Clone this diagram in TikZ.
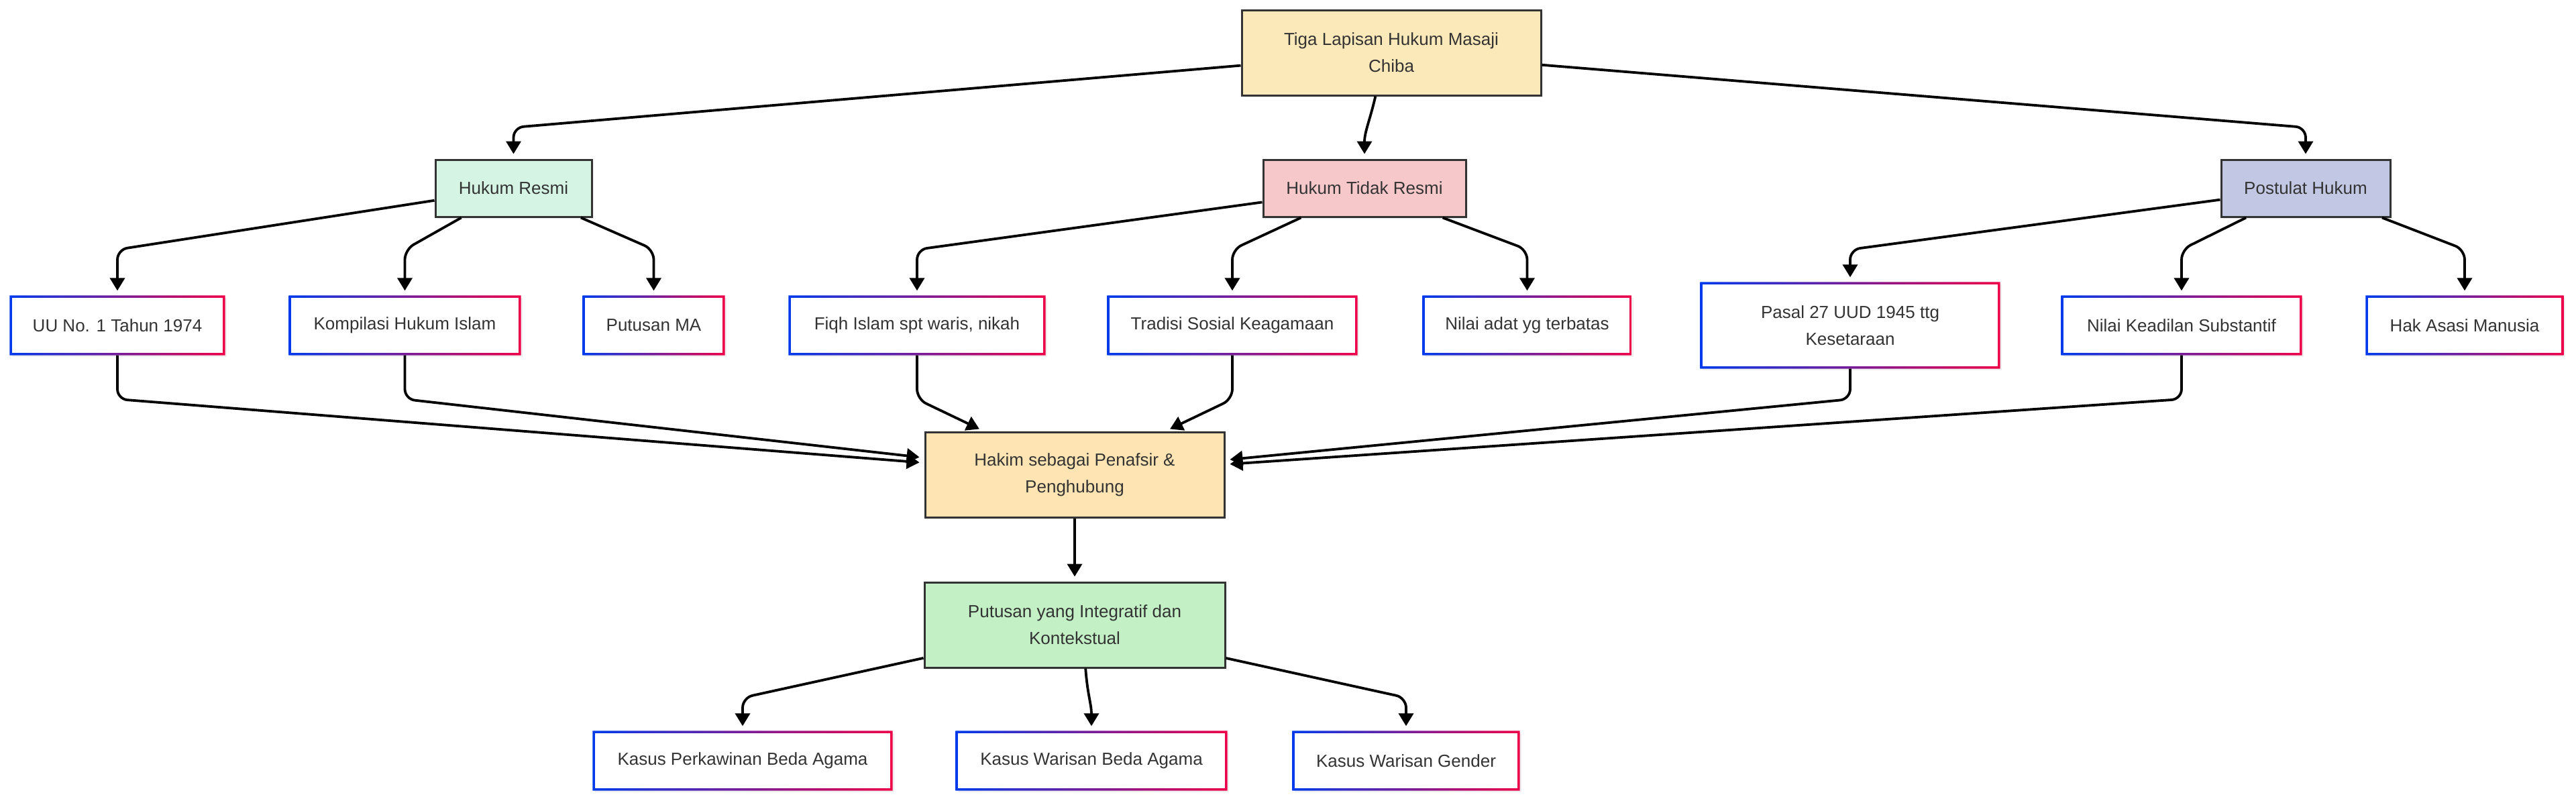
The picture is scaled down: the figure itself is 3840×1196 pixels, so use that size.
\documentclass[tikz,border=0pt]{standalone}
\usepackage{fontspec}
\setmainfont{Liberation Sans}
\usetikzlibrary{arrows.meta,shadows}

\definecolor{txtgray}{RGB}{51,51,51}
\definecolor{tigafill}{RGB}{252,233,186}
\definecolor{hakimfill}{RGB}{255,228,179}
\definecolor{resmifill}{RGB}{213,244,227}
\definecolor{tidakfill}{RGB}{246,200,202}
\definecolor{postulatfill}{RGB}{194,200,228}
\definecolor{putusanfill}{RGB}{196,240,198}
\definecolor{frameblue}{RGB}{0,58,235}
\definecolor{framered}{RGB}{238,0,72}

\begin{document}
\begin{tikzpicture}[x=0.1mm,y=-0.1mm,>={Triangle[length=1.9mm,width=2.2mm]},
    box/.style={rectangle,align=center,inner sep=0pt,text=txtgray,
      font=\fontsize{7.4pt}{11.4pt}\selectfont,
      drop shadow={opacity=0.12,shadow xshift=0.3mm,shadow yshift=-0.3mm}},
    layer/.style={box,draw=txtgray,line width=0.3mm,minimum height=8.5mm},
    leaf/.style={box,fill=white,minimum height=8.8mm},
    link/.style={->,line width=0.38mm,shorten >=0.7mm,rounded corners=1.5mm}]
  \path[fill=white] (0,0) rectangle (3840,1196);

  \node[layer,fill=tigafill,minimum width=44.6mm,minimum height=12.7mm] (tiga) at (2074,78.5) {Tiga Lapisan Hukum Masaji\\Chiba};
  \node[layer,fill=resmifill,minimum width=23.3mm]    (resmi)    at (765.5,280.5) {Hukum Resmi};
  \node[layer,fill=tidakfill,minimum width=30.2mm]    (tidak)    at (2034,280.5)  {Hukum Tidak Resmi};
  \node[layer,fill=postulatfill,minimum width=25.2mm] (postulat) at (3437,280.5)  {Postulat Hukum};

  \node[leaf,minimum width=32.0mm] (uu)       at (175,485)    {UU No. 1 Tahun 1974};
  \node[leaf,minimum width=34.5mm] (khi)      at (603.5,485)  {Kompilasi Hukum Islam};
  \node[leaf,minimum width=21.1mm] (pma)      at (974.5,485)  {Putusan MA};
  \node[leaf,minimum width=38.2mm] (fiqh)     at (1367,485)   {Fiqh Islam spt waris, nikah};
  \node[leaf,minimum width=37.2mm] (tradisi)  at (1837,485)   {Tradisi Sosial Keagamaan};
  \node[leaf,minimum width=31.1mm] (adat)     at (2276.5,485) {Nilai adat yg terbatas};
  \node[leaf,minimum width=44.6mm,minimum height=12.8mm] (pasal) at (2758,485) {Pasal 27 UUD 1945 ttg\\Kesetaraan};
  \node[leaf,minimum width=35.8mm] (keadilan) at (3252,485)   {Nilai Keadilan Substantif};
  \node[leaf,minimum width=29.4mm] (ham)      at (3674,485)   {Hak Asasi Manusia};

  \node[layer,fill=hakimfill,minimum width=44.6mm,minimum height=12.7mm]   (hakim)   at (1602,707.5) {Hakim sebagai Penafsir \&\\Penghubung};
  \node[layer,fill=putusanfill,minimum width=44.8mm,minimum height=12.7mm] (putusan) at (1602,931.5) {Putusan yang Integratif dan\\Kontekstual};

  \node[leaf,minimum width=44.6mm] (kpba) at (1107,1134) {Kasus Perkawinan Beda Agama};
  \node[leaf,minimum width=40.4mm] (kwba) at (1627,1134) {Kasus Warisan Beda Agama};
  \node[leaf,minimum width=33.8mm] (kwg)  at (2096,1134) {Kasus Warisan Gender};

  \foreach \n in {uu,khi,pma,fiqh,tradisi,adat,pasal,keadilan,ham,kpba,kwba,kwg}
    \shade[left color=frameblue,right color=framered,even odd rule]
      (\n.south west) rectangle (\n.north east)
      ([shift={(3.5,-3.5)}]\n.south west) rectangle ([shift={(-3.5,3.5)}]\n.north east);

  \draw[link] (tiga) -- (resmi |- 0,190) -- (resmi);
  \draw[link] (tiga.250) .. controls +(-8,35) and +(0,-40) .. (tidak.north);
  \draw[link] (tiga) -- (postulat |- 0,190) -- (postulat);

  \foreach \p/\c in {resmi/uu,resmi/khi,resmi/pma,tidak/fiqh,tidak/tradisi,tidak/adat,
                     postulat/pasal,postulat/keadilan,postulat/ham}
    \draw[link] (\p) -- (\c |- 0,372) -- (\c);

  \foreach \c in {uu,khi,fiqh,tradisi,pasal,keadilan}
    \draw[link] (\c) -- (\c |- 0,595) -- (hakim);

  \draw[link] (hakim) -- (putusan);
  \draw[link] (putusan) -- (kpba |- 0,1040) -- (kpba);
  \draw[link] (putusan.284) .. controls +(3,40) and +(0,-40) .. (kwba.north);
  \draw[link] (putusan) -- (kwg |- 0,1040) -- (kwg);
\end{tikzpicture}
\end{document}
